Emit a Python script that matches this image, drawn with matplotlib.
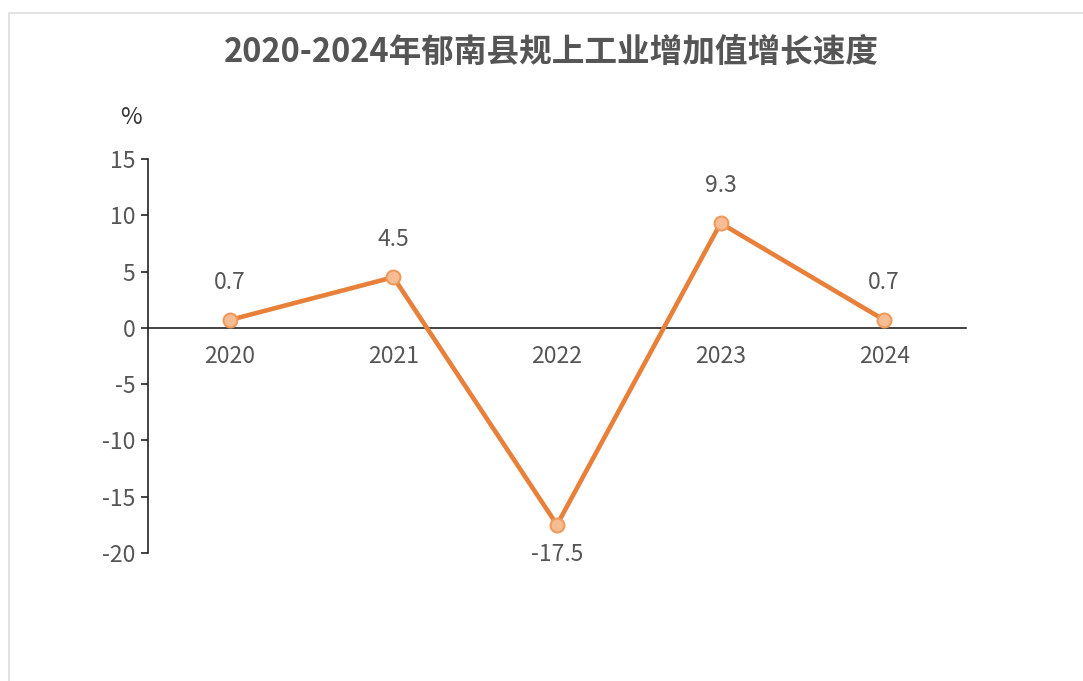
import matplotlib.pyplot as plt
from matplotlib.patches import Rectangle

plt.rcParams['font.family'] = ['Noto Sans CJK SC', 'DejaVu Sans']

years = ["2020", "2021", "2022", "2023", "2024"]
growth = [0.7, 4.5, -17.5, 9.3, 0.7]
yticks = [15, 10, 5, 0, -5, -10, -15, -20]

fig = plt.figure(figsize=(10.83, 6.81), dpi=100)
# light frame around the chart
fig.patches.append(Rectangle((9 / 1083, -0.1), 1.2, 1 - 13 / 681 + 0.1,
                             transform=fig.transFigure, fill=False,
                             edgecolor="#dddddd", linewidth=1.2))
ax = fig.add_axes([148 / 1083, 1 - 553 / 681, 818 / 1083, 394 / 681])

x = list(range(len(years)))
ax.plot(x, growth, color="#E8803A", linewidth=3.3, marker="o", markersize=10,
        markerfacecolor="#F7BC92", markeredgecolor="#EE9A5C", markeredgewidth=1.5,
        zorder=3)

for xi, v in zip(x, growth):
    off = 27 if v >= 0 else -21
    ax.annotate(f"{v}", (xi, v), xytext=(0, off), textcoords="offset points",
                ha="center", va="center", fontsize=16.5, color="#555555")

ax.set_xlim(-0.5, 4.5)
ax.set_ylim(-20, 15)
ax.set_yticks(yticks)
ax.set_yticklabels([str(t) for t in yticks])
ax.set_xticks(x)
ax.set_xticklabels(years)

for s in ["top", "right"]:
    ax.spines[s].set_visible(False)
ax.spines["bottom"].set_position(("data", 0))
ax.spines["bottom"].set_color("#222222")
ax.spines["left"].set_color("#222222")
ax.spines["left"].set_linewidth(1.2)
ax.spines["bottom"].set_linewidth(1.2)

ax.tick_params(axis="y", direction="out", length=5, width=1.2, color="#222222",
               labelsize=16.5, labelcolor="#555555", pad=4)
ax.tick_params(axis="x", length=0, labelsize=16.5, labelcolor="#555555", pad=12)

fig.text(131 / 1083, 1 - 118 / 681, "%", ha="center", va="center",
         fontsize=17, color="#333333")
fig.text(551 / 1083, 1 - 52 / 681, "2020-2024年郁南县规上工业增加值增长速度",
         ha="center", va="center", fontsize=23.5, fontweight="bold", color="#555555")

fig.savefig("out.png", dpi=100)
